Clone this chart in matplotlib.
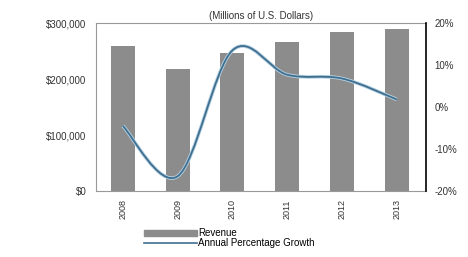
import numpy as np
import matplotlib.pyplot as plt
from matplotlib.path import Path
from matplotlib.patches import PathPatch, Patch
from matplotlib.lines import Line2D
from matplotlib.ticker import FuncFormatter

plt.rcParams['font.family'] = ['Liberation Sans', 'DejaVu Sans']

years = ['2008', '2009', '2010', '2011', '2012', '2013']
revenue = [260000, 218000, 246000, 266000, 284000, 289000]
growth = [-4.5, -16.5, 13.5, 7.7, 6.8, 1.8]

bar_color = '#8c8c8c'
line_color = '#3f6f8f'

fig = plt.figure(figsize=(4.68, 2.57), dpi=100)
ax = fig.add_axes([0.205, 0.257, 0.705, 0.653])
x = np.arange(len(years))
ax.bar(x, revenue, width=0.44, color=bar_color, zorder=2)
ax.set_xlim(-0.49, len(years) - 0.47)
ax.set_ylim(0, 300000)
ax.set_yticks([0, 100000, 200000, 300000])
ax.yaxis.set_major_formatter(FuncFormatter(lambda v, p: f'${v:,.0f}'))
ax.set_xticks(x)
ax.set_xticklabels(years, rotation=90)
ax.tick_params(labelsize=7, length=0, pad=7, colors='#333333')
ax.tick_params(axis='x', labelsize=6.5, pad=6)
for s in ['left', 'top', 'bottom']:
    ax.spines[s].set_color('#999999')
    ax.spines[s].set_linewidth(0.8)
ax.spines['right'].set_visible(False)
ax.set_title('(Millions of U.S. Dollars)', fontsize=7, pad=3, color='#333333')

ax2 = ax.twinx()
ax2.set_ylim(-20, 20)
ax2.set_yticks([-20, -10, 0, 10, 20])
ax2.yaxis.set_major_formatter(FuncFormatter(lambda v, p: f'{v:.0f}%'))
ax2.tick_params(labelsize=7, length=0, pad=6, colors='#333333')
for s in ['left', 'top', 'bottom']:
    ax2.spines[s].set_visible(False)
ax2.spines['right'].set_color('black')
ax2.spines['right'].set_linewidth(1.2)

# smoothed line (Excel style bezier through the points)
px = x.astype(float)
py = np.array(growth, dtype=float)
verts = [(px[0], py[0])]
codes = [Path.MOVETO]
n = len(px)
for i in range(n - 1):
    p0 = (px[max(i - 1, 0)], py[max(i - 1, 0)])
    p1 = (px[i], py[i])
    p2 = (px[i + 1], py[i + 1])
    p3 = (px[min(i + 2, n - 1)], py[min(i + 2, n - 1)])
    c1 = (p1[0] + (p2[0] - p0[0]) / 6, p1[1] + (p2[1] - p0[1]) / 6)
    c2 = (p2[0] - (p3[0] - p1[0]) / 6, p2[1] - (p3[1] - p1[1]) / 6)
    verts += [c1, c2, p2]
    codes += [Path.CURVE4] * 3
ax2.add_patch(PathPatch(Path(verts, codes), fill=False, edgecolor='#b5d0e2',
                        linewidth=2.6, zorder=3))
ax2.add_patch(PathPatch(Path(verts, codes), fill=False, edgecolor=line_color,
                        linewidth=1.3, zorder=4))

handles = [Patch(color=bar_color, label='Revenue'),
           Line2D([0], [0], color=line_color, lw=1.2, label='Annual Percentage Growth')]
fig.legend(handles=handles, loc='lower center', bbox_to_anchor=(0.49, 0.015),
           fontsize=7, frameon=False, handlelength=5.5, handletextpad=0.1,
           labelspacing=0, handleheight=0.6, borderpad=0)

fig.savefig('out.png', dpi=100)
